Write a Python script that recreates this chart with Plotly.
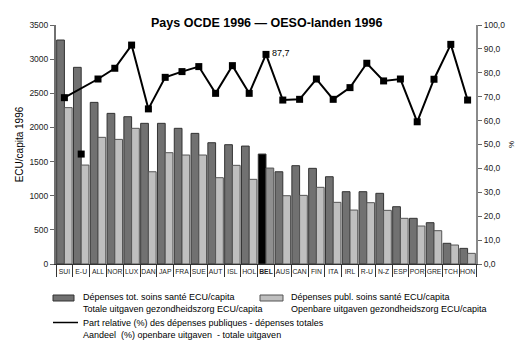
import plotly.graph_objects as go

countries = ["SUI", "E-U", "ALL", "NOR", "LUX", "DAN", "JAP", "FRA", "SUE", "AUT", "ISL", "HOL", "BEL",
             "AUS", "CAN", "FIN", "ITA", "IRL", "R-U", "N-Z", "ESP", "POR", "GRE", "TCH", "HON"]
total_exp = [3280, 2880, 2367, 2206, 2157, 2060, 2060, 1987, 1913, 1776, 1747, 1727, 1610,
             1351, 1440, 1401, 1278, 1059, 1059, 1035, 839, 669, 605, 303, 229]
public_exp = [2290, 1449, 1855, 1825, 1987, 1351, 1630, 1596, 1596, 1264, 1445, 1240, 1405,
              1000, 1005, 1123, 903, 790, 898, 786, 669, 556, 488, 278, 156]
public_share = [69.6, 46.0, 77.4, 81.9, 91.6, 64.9, 78.1, 80.5, 82.6, 71.4, 83.0, 71.4, 87.7,
                68.6, 68.9, 77.4, 68.9, 73.8, 84.0, 76.6, 77.4, 59.5, 77.3, 91.9, 68.6]
highlight = "BEL"
detached = "E-U"

title = "Pays OCDE 1996 — OESO-landen 1996"
ytitle = "ECU/capita 1996"
leg_total = "Dépenses tot. soins santé ECU/capita<br>Totale uitgaven gezondheidszorg ECU/capita"
leg_public = "Dépenses publ. soins santé ECU/capita<br>Openbare uitgaven gezondheidszorg ECU/capita"
leg_line = "Part relative (%) des dépenses publiques - dépenses totales<br>Aandeel  (%) openbare uitgaven  - totale uitgaven"

C_TOT = "#717171"
C_PUB = "#bfbfbf"
FONT = "Liberation Sans"

tot_colors = ["#000000" if c == highlight else C_TOT for c in countries]
pub_colors = ["#8f8f8f" if c == highlight else C_PUB for c in countries]
ticktext = [f"<b>{c}</b>" if c == highlight else c for c in countries]

fig = go.Figure()
fig.add_trace(go.Bar(x=countries, y=total_exp, marker=dict(color=tot_colors, line=dict(color="#333333", width=1)),
                     name="tot", showlegend=False))
fig.add_trace(go.Bar(x=countries, y=public_exp, marker=dict(color=pub_colors, line=dict(color="#555555", width=1)),
                     name="pub", showlegend=False))

line_x = [c for c in countries if c != detached]
line_y = [v for c, v in zip(countries, public_share) if c != detached]
fig.add_trace(go.Scatter(x=line_x, y=line_y, yaxis="y2", mode="lines+markers",
                         line=dict(color="black", width=2),
                         marker=dict(symbol="square", size=7, color="black"), showlegend=False))
det_i = countries.index(detached)
fig.add_trace(go.Scatter(x=[detached], y=[public_share[det_i]], yaxis="y2", mode="markers",
                         marker=dict(symbol="square", size=7, color="black"), showlegend=False))
hi = countries.index(highlight)
fig.add_annotation(x=highlight, y=public_share[hi], yref="y2", text=f"{public_share[hi]:.1f}".replace(".", ","),
                   showarrow=False, xanchor="left", yanchor="middle", xshift=4, yshift=1,
                   font=dict(family=FONT, size=9, color="black"))

# title
fig.add_annotation(x=0.5, y=1.01, xref="paper", yref="paper", text=f"<b>{title}</b>", showarrow=False,
                   xanchor="center", yanchor="middle", font=dict(family=FONT, size=12.5, color="black"))

# manual legend
def px(x):
    return (x - 56) / 420.0

def py(y):
    return (264 - y) / 239.0

fig.add_shape(type="rect", xref="paper", yref="paper", x0=px(53), x1=px(74), y0=py(301), y1=py(295),
              fillcolor=C_TOT, line=dict(color="#333333", width=1))
fig.add_shape(type="rect", xref="paper", yref="paper", x0=px(260), x1=px(283), y0=py(301), y1=py(295),
              fillcolor=C_PUB, line=dict(color="#555555", width=1))
fig.add_shape(type="line", xref="paper", yref="paper", x0=px(53), x1=px(78), y0=py(322.5), y1=py(322.5),
              line=dict(color="black", width=1.5))
for xx, yy, txt in [(81, 303, leg_total), (289, 303, leg_public), (81, 328.5, leg_line)]:
    fig.add_annotation(x=px(xx), y=py(yy), xref="paper", yref="paper", text=txt, showarrow=False,
                       xanchor="left", yanchor="middle", align="left",
                       font=dict(family=FONT, size=9, color="black"))

fig.update_layout(
    width=527, height=352,
    margin=dict(l=56, r=51, t=25, b=88),
    paper_bgcolor="white", plot_bgcolor="white",
    barmode="group", bargap=0.08, bargroupgap=0.0,
    separators=", ",
    font=dict(family=FONT, size=9, color="black"),
    xaxis=dict(type="category", categoryorder="array", categoryarray=countries,
               tickvals=countries, ticktext=ticktext, tickson="boundaries", tickangle=0,
               ticks="outside", ticklen=12, tickcolor="#333333", showline=True, linecolor="#333333",
               linewidth=1, tickfont=dict(family=FONT, size=6.8, color="#222222"), ticklabelstandoff=1,
               showgrid=False, zeroline=False, automargin=False,
               range=[-0.5, len(countries) - 0.5]),
    yaxis=dict(range=[0, 3500], dtick=500, tickformat="d", ticks="outside", ticklen=4, tickcolor="#666666",
               showline=True, linecolor="#707070", linewidth=2, showgrid=False, zeroline=False,
               tickfont=dict(family=FONT, size=8.5, color="#222222"), automargin=False,
               title=dict(text=ytitle, font=dict(family=FONT, size=10), standoff=4)),
    yaxis2=dict(range=[0, 100], dtick=10, tickformat=".1f", overlaying="y", side="right",
                ticks="outside", ticklen=4, tickcolor="#666666", showline=True, linecolor="#8a8a8a",
                linewidth=2, showgrid=False, zeroline=False, automargin=False,
                tickfont=dict(family=FONT, size=8.5, color="#222222"),
                title=dict(text="%", font=dict(family=FONT, size=8), standoff=4)),
)

fig.write_html("out.html")
